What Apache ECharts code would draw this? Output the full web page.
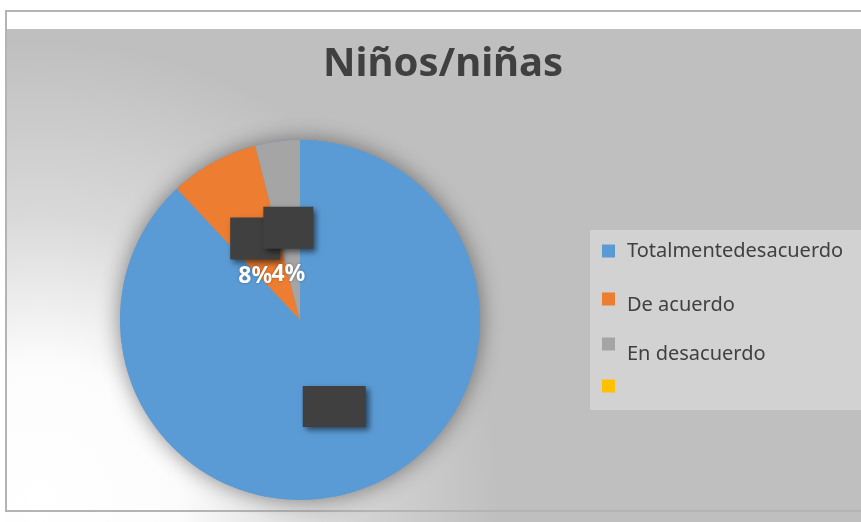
<!DOCTYPE html>
<html>
<head>
<meta charset="utf-8">
<script src="https://cdn.jsdelivr.net/npm/echarts@6/dist/echarts.min.js"></script>
<style>
  html, body { margin: 0; padding: 0; background: #fff; }
  #chart { width: 861px; height: 522px; }
</style>
</head>
<body>
<div id="chart"></div>
<script>
// categorias y porcentajes
const categories = ['Totalmentedesacuerdo', 'De acuerdo', 'En desacuerdo', ' ']
const values = [88, 8, 4, 0]

const font = 'Noto Sans'
const textColor = '#404040'

const myChart = echarts.init(document.getElementById('chart'))

// una leyenda por item, asi cada texto puede ir un poco desplazado como en el original
// (una linea vacia arriba baja el texto respecto al cuadradito)
const legendTops = [241, 281, 322, 376]
const legendShift = [0, 12, 20, 0]
const legends = categories.map(function (name, i) {
  return {
    data: [name],
    orient: 'vertical',
    left: 602,
    top: legendTops[i],
    padding: 0,
    icon: 'rect',
    itemWidth: 13,
    itemHeight: 13,
    selectedMode: false,
    formatter: function (n) {
      return legendShift[i] ? '{s| }\n{t|' + n + '}' : '{t|' + n + '}'
    },
    textStyle: {
      fontFamily: font,
      fontSize: 20,
      color: textColor,
      rich: {
        s: { fontSize: 1, lineHeight: legendShift[i], height: legendShift[i] },
        t: {
          fontFamily: font,
          fontSize: 20,
          lineHeight: 24,
          color: textColor,
          padding: [0, 0, 0, 7]
        }
      }
    }
  }
})

const labelBox = {
  backgroundColor: '#404040',
  shadowColor: 'rgba(0,0,0,0.55)',
  shadowBlur: 6,
  shadowOffsetX: 3,
  shadowOffsetY: 3
}
const pctStyle = {
  color: '#fff',
  fontFamily: font,
  fontSize: 23,
  fontWeight: 'bold',
  textShadowColor: 'rgba(0,0,0,0.35)',
  textShadowBlur: 3
}

myChart.setOption({
  animation: false,
  backgroundColor: {
    type: 'radial',
    x: 0.046,
    y: 0.96,
    r: 0.88,
    colorStops: [
      { offset: 0, color: '#ffffff' },
      { offset: 0.3, color: '#fcfcfc' },
      { offset: 0.62, color: '#d9d9d9' },
      { offset: 1, color: '#bfbfbf' }
    ]
  },
  color: ['#5B9BD5', '#ED7D31', '#A5A5A5', '#FFC000'],
  title: {
    text: 'Niños/niñas',
    left: 318,
    top: 40,
    textStyle: {
      fontFamily: font,
      fontSize: 40,
      fontWeight: 'bold',
      color: textColor
    }
  },
  graphic: [
    { type: 'rect', shape: { x: 0, y: 0, width: 861, height: 29 }, style: { fill: '#fff' }, silent: true },
    { type: 'rect', shape: { x: 0, y: 0, width: 5, height: 522 }, style: { fill: '#fff' }, silent: true },
    { type: 'rect', shape: { x: 6, y: 11, width: 870, height: 500 }, style: { fill: 'none', stroke: '#b4b4b4', lineWidth: 2 }, silent: true },
    { type: 'rect', shape: { x: 590, y: 230, width: 280, height: 180 }, style: { fill: '#d2d2d2' }, silent: true }
  ],
  legend: legends,
  series: [
    {
      // solo la sombra del disco
      type: 'pie',
      silent: true,
      center: [300, 320],
      radius: 180,
      label: { show: false },
      labelLine: { show: false },
      itemStyle: {
        color: '#5B9BD5',
        shadowBlur: 22,
        shadowColor: 'rgba(0,0,0,0.45)'
      },
      data: [{ value: 1, name: '_sombra' }]
    },
    {
      type: 'pie',
      center: [300, 320],
      radius: 180,
      startAngle: 90,
      clockwise: true,
      avoidLabelOverlap: false,
      labelLayout: { hideOverlap: false },
      labelLine: { show: false },
      label: {
        show: true,
        position: 'inside',
        formatter: function (p) {
          if (p.dataIndex === 0) return '{big| }'
          if (!p.value) return ''
          // 8% y 4% quedan a la misma altura en el original
          const k = p.dataIndex === 1 ? 'a' : 'b'
          return '{s' + k + '| }\n{box| }\n{p' + k + '|' + Math.round(p.percent) + '%}'
        },
        rich: {
          sa: { height: 34, lineHeight: 34 },
          sb: { height: 52, lineHeight: 52 },
          box: Object.assign({ width: 50, height: 42 }, labelBox),
          big: Object.assign({ width: 63, height: 41 }, labelBox),
          pa: Object.assign({ lineHeight: 34 }, pctStyle),
          pb: Object.assign({ lineHeight: 52 }, pctStyle)
        }
      },
      data: categories.map(function (name, i) {
        return { name: name, value: values[i] }
      })
    }
  ]
})
</script>
</body>
</html>
